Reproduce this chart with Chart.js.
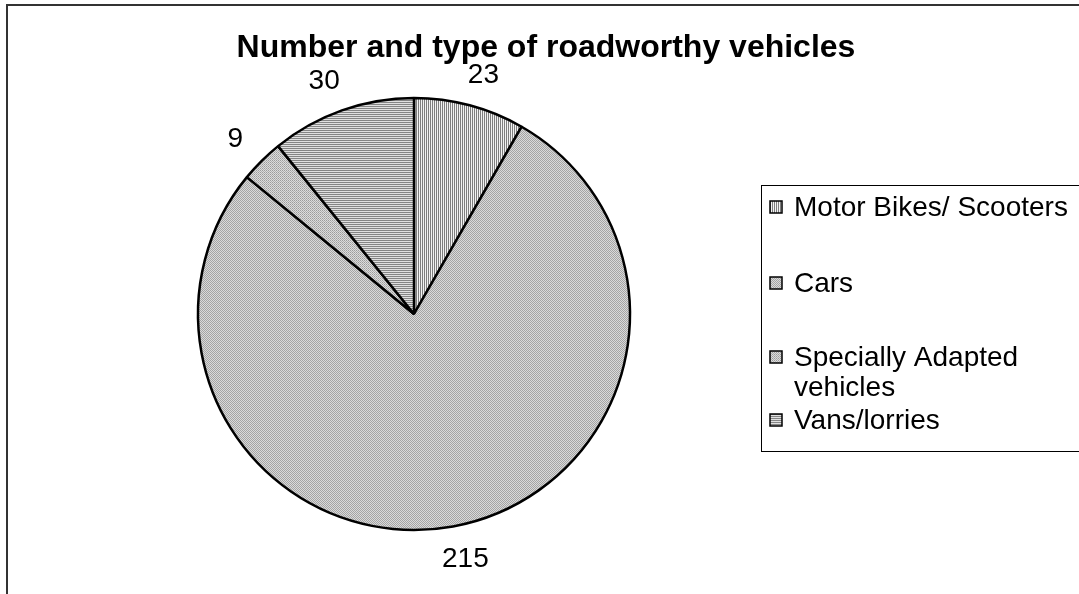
<!DOCTYPE html>
<html>
<head>
<meta charset="utf-8">
<script src="https://cdn.jsdelivr.net/npm/chart.js@4.4.0/dist/chart.umd.min.js"></script>
<style>
  html, body { margin: 0; padding: 0; background: #ffffff; }
  #wrap { position: relative; width: 1079px; height: 594px; }
  canvas { display: block; }
</style>
</head>
<body>
<div id="wrap"><canvas id="c" width="1079" height="594"></canvas></div>
<script>
// ---- data ----
const chartTitle = 'Number and type of roadworthy vehicles';
const categories = ['Motor Bikes/ Scooters', 'Cars', 'Specially Adapted vehicles', 'Vans/lorries'];
const vehicleCounts = [23, 215, 9, 30];

// ---- patterns ----
function makePattern(kind) {
  const pc = document.createElement('canvas');
  const size = 4;
  pc.width = size; pc.height = size;
  const p = pc.getContext('2d');
  for (let y = 0; y < size; y++) {
    for (let x = 0; x < size; x++) {
      let col;
      if (kind === 'vert') col = (x % 2 === 0) ? '#7e7e7e' : '#f2f2f2';
      else if (kind === 'horiz') col = (y % 2 === 0) ? '#858585' : '#e0e0e0';
      else if (kind === 'check') col = ((x + y) % 2 === 0) ? '#a4a4a4' : '#dadada';
      else col = ((x + y) % 2 === 0) ? ((x % 2 === 0) ? '#9c9c9c' : '#b0b0b0') : '#dcdcdc';
      p.fillStyle = col;
      p.fillRect(x, y, 1, 1);
    }
  }
  return document.getElementById('c').getContext('2d').createPattern(pc, 'repeat');
}
const patterns = [makePattern('vert'), makePattern('check'), makePattern('diag'), makePattern('horiz')];

const FONT = '"Liberation Sans", Arial, sans-serif';

const framePlugin = {
  id: 'frame',
  beforeDraw(chart) {
    const ctx = chart.ctx;
    ctx.save();
    ctx.fillStyle = '#ffffff';
    ctx.fillRect(0, 0, chart.width, chart.height);
    ctx.strokeStyle = '#333333';
    ctx.lineWidth = 2;
    ctx.beginPath();
    ctx.moveTo(7, 600);
    ctx.lineTo(7, 5);
    ctx.lineTo(1085, 5);
    ctx.stroke();
    ctx.restore();
  }
};

const decorPlugin = {
  id: 'decor',
  afterDraw(chart) {
    const ctx = chart.ctx;
    ctx.save();
    // title
    ctx.fillStyle = '#000000';
    ctx.font = 'bold 32px ' + FONT;
    ctx.textAlign = 'center';
    ctx.textBaseline = 'alphabetic';
    ctx.fillText(chartTitle, 546, 57);

    // value labels outside end
    ctx.font = '28px ' + FONT;
    ctx.textBaseline = 'middle';
    const meta = chart.getDatasetMeta(0);
    const data = chart.data.datasets[0].data;
    meta.data.forEach((arc, i) => {
      const pr = arc.getProps(['x', 'y', 'startAngle', 'endAngle', 'outerRadius'], true);
      const mid = (pr.startAngle + pr.endAngle) / 2;
      const dx = Math.cos(mid), dy = Math.sin(mid);
      const txt = String(data[i]);
      const w = ctx.measureText(txt).width;
      const h = 20;
      const gap = 22;
      const cx = pr.x + dx * (pr.outerRadius + gap) + dx * w;
      const cy = pr.y + dy * (pr.outerRadius + gap) + dy * h / 2;
      ctx.fillText(txt, cx, cy + 1);
    });

    // legend box
    const lx = 761, ly = 185, lb = 451;
    ctx.strokeStyle = '#000000';
    ctx.lineWidth = 1;
    ctx.strokeRect(lx + 0.5, ly + 0.5, 400, lb - ly);
    ctx.font = '28px ' + FONT;
    ctx.textAlign = 'left';
    const textX = 794, maxW = 1077 - 794;
    const lineH = 30;
    let y = 207;
    const gaps = [76, 74, 33];
    chart.data.labels.forEach((lab, i) => {
      const words = lab.split(' ');
      const lines = [];
      let cur = '';
      words.forEach(wd => {
        const t = cur ? cur + ' ' + wd : wd;
        if (ctx.measureText(t).width > maxW && cur) { lines.push(cur); cur = wd; }
        else cur = t;
      });
      lines.push(cur);
      // swatch
      ctx.fillStyle = patterns[i];
      ctx.fillRect(770, y - 6, 12, 12);
      ctx.strokeStyle = '#000000';
      ctx.lineWidth = 1.5;
      ctx.strokeRect(770, y - 6, 12, 12);
      ctx.fillStyle = '#000000';
      lines.forEach((ln, k) => {
        ctx.fillText(ln, textX, y + k * lineH + 1);
      });
      y += (lines.length - 1) * lineH + (gaps[i] || 0);
    });
    ctx.restore();
  }
};

new Chart(document.getElementById('c'), {
  type: 'pie',
  data: {
    labels: categories,
    datasets: [{
      data: vehicleCounts,
      backgroundColor: patterns,
      borderColor: '#000000',
      borderWidth: 2.5,
      hoverOffset: 0,
      hoverBorderWidth: 2.5
    }]
  },
  options: {
    responsive: false,
    animation: false,
    events: [],
    radius: 216,
    layout: { padding: { left: 164, right: 415, top: 64, bottom: 30 } },
    plugins: {
      legend: { display: false },
      title: { display: false },
      tooltip: { enabled: false }
    }
  },
  plugins: [framePlugin, decorPlugin]
});
</script>
</body>
</html>
